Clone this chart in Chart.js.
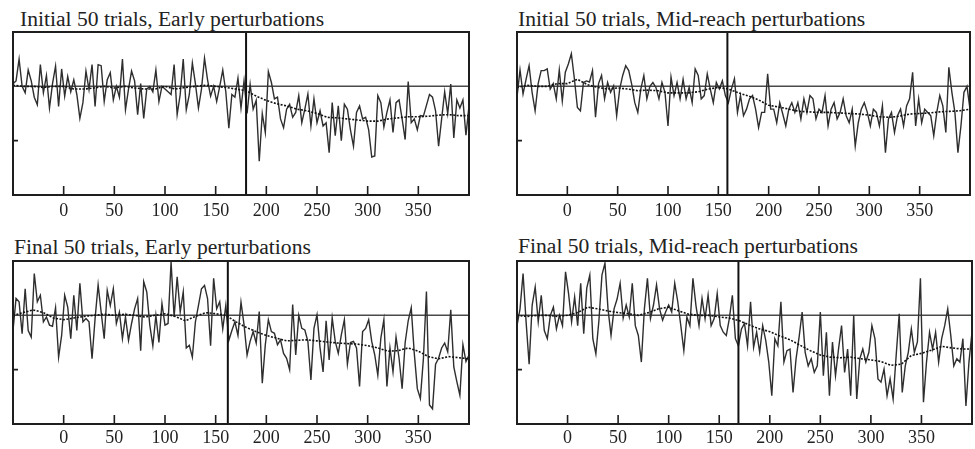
<!DOCTYPE html>
<html>
<head>
<meta charset="utf-8">
<script src="https://cdn.jsdelivr.net/npm/chart.js@4.4.1/dist/chart.umd.min.js"></script>
<style>
  body { margin: 0; background: #fff; width: 975px; height: 449px; overflow: hidden; position: relative; }
  canvas { position: absolute; }
  .ttl { position: absolute; font-family: "Liberation Serif", "Times New Roman", serif; font-size: 21.6px;
         line-height: 1; color: #222; white-space: nowrap; }
</style>
</head>
<body>
<div class="ttl" id="t0"></div>
<div class="ttl" id="t1"></div>
<div class="ttl" id="t2"></div>
<div class="ttl" id="t3"></div>
<canvas id="c0"></canvas>
<canvas id="c1"></canvas>
<canvas id="c2"></canvas>
<canvas id="c3"></canvas>
<script>
// time axis: single-trial traces sampled every 3 ms, mean traces every 10 ms, both from -50
const T0 = -50;
const RAW_STEP = 3;
const MEAN_STEP = 10;
const xTicks = [0, 50, 100, 150, 200, 250, 300, 350];
const yTicks = [-1];

const titles = [
  'Initial 50 trials, Early perturbations',
  'Initial 50 trials, Mid-reach perturbations',
  'Final 50 trials, Early perturbations',
  'Final 50 trials, Mid-reach perturbations'
];

// perturbation onset (vertical line) for each panel
const onsets = [180, 159, 162, 169];

// Initial 50 trials, early perturbations
const initEarlyRaw = [
  0.05, 0.1, 0.5, 0.0, -0.12, 0.3, 0.1, -0.2, -0.34, 0.4,
  -0.12, 0.2, -0.4, 0.05, 0.37, -0.37, 0.32, -0.18, 0.18, -0.1,
  0.12, -0.15, -0.59, -0.3, 0.28, -0.06, 0.4, -0.37, 0.4, 0.38,
  -0.28, 0.12, 0.25, -0.25, 0.0, -0.2, 0.5, -0.43, -0.05, 0.28,
  0.1, -0.52, 0.05, -0.59, -0.05, 0.0, -0.1, 0.3, -0.28, 0.0,
  -0.05, -0.1, -0.15, 0.4, -0.52, -0.15, 0.5, -0.43, -0.15, 0.43,
  0.05, -0.4, -0.05, 0.52, 0.12, -0.18, 0.0, -0.28, 0.0, 0.3,
  -0.1, -0.77, -0.15, -0.2, 0.15, -0.4, 0.1,
  -0.5, 0.04, -0.42, -0.26, -1.38, -0.5, -0.85, 0.27, 0.07, -0.23,
  -0.2, -0.6, -0.76, -0.42, -0.33, -0.57, -0.48, -0.17, -0.67, -0.42,
  -0.14, -0.73, -0.23, -0.67, -0.45, -0.73, -0.67, -1.22, -0.3, -0.91,
  -0.36, -1.0, -0.33, -0.42, -0.8, -1.1, -0.48, -0.36, -0.6, -0.57,
  -0.8, -1.3, -1.28, -0.17, -0.3, -0.75, -0.48, -0.25, -0.85, -0.3,
  -0.25, -0.6, -0.98, 0.09, -0.67, -0.6, -0.8, -0.54, -0.55, -0.35,
  -0.15, -0.2, -0.45, -1.1, -0.6, -0.1, -0.5, 0.04, -0.95, -0.25,
  -0.4, -0.25, -0.9, -0.36
];
const initEarlyMean = [
  0.02, 0.0, 0.0, -0.02, 0.0, 0.0, -0.05, -0.05, -0.03, 0.0,
  -0.03, 0.0, -0.03, -0.05, -0.05, 0.0, -0.05, -0.02, 0.0, 0.02,
  0.0, -0.02, -0.05, -0.08, -0.18, -0.26, -0.32, -0.36, -0.42, -0.45,
  -0.5, -0.57, -0.58, -0.6, -0.62, -0.64, -0.64, -0.6, -0.58, -0.56,
  -0.56, -0.55, -0.53, -0.52, -0.54, -0.54
];

// Initial 50 trials, mid-reach perturbations
const initMidRaw = [
  -0.2, 0.3, -0.14, 0.13, 0.38, -0.11, -0.45, 0.05, 0.29, 0.29,
  0.32, -0.05, 0.05, -0.23, 0.3, -0.27, 0.26, 0.41, 0.6, 0.14,
  -0.39, -0.45, 0.07, 0.1, 0.08, 0.29, -0.57, 0.05, 0.2, -0.23,
  0.07, -0.11, 0.01, -0.54, -0.05, 0.2, 0.38, 0.29, 0.03, -0.3,
  -0.48, -0.05, 0.2, -0.23, 0.0, 0.07, -0.02, -0.23, 0.07, -0.11,
  -0.73, 0.17, -0.17, 0.07, -0.23, 0.13, -0.23, -0.02, -0.3, 0.32,
  0.2, -0.23, -0.17, 0.23, -0.05, -0.3, 0.07, -0.05, 0.1, -0.17,
  -0.3, -0.05, 0.14, -0.48, -0.17, -0.54, -0.42, -0.23, -0.17, -0.42,
  -0.76, -0.48, -0.48, 0.23, -0.42, -0.42, -0.67, -0.3, -0.51, -0.73,
  -0.42, -0.3, -0.48, -0.3, -0.6, -0.23, -0.48, -0.17, -0.23, -0.6,
  -0.42, -0.48, -0.17, -0.73, -0.42, -0.3, -0.6, -0.48, -0.23, -0.54,
  -0.67, -0.42, -1.1, -0.67, -0.42, -0.3, -0.48, -0.73, -0.42, -0.48,
  -0.73, -0.36, -1.22, -0.6, -0.48, -0.85, -0.54, -0.42, -0.73, -0.36,
  -0.23, 0.26, -0.73, -0.23, -0.67, -0.42, -0.48, -0.54, -0.91, -0.48,
  -0.17, -0.36, -0.85, 0.35, -0.11, -0.48, -1.22, -0.73, -0.11, 0.0,
  -0.42
];
const initMidMean = [
  -0.02, 0.02, 0.0, 0.0, 0.05, 0.05, 0.13, 0.03, -0.02, -0.05,
  -0.03, -0.05, -0.08, -0.07, -0.08, -0.12, -0.12, -0.12, -0.1, -0.05,
  -0.02, -0.05, -0.12, -0.18, -0.25, -0.35, -0.38, -0.42, -0.46, -0.47,
  -0.48, -0.48, -0.49, -0.5, -0.51, -0.53, -0.56, -0.57, -0.55, -0.51,
  -0.5, -0.49, -0.47, -0.46, -0.45, -0.42
];

// Final 50 trials, early perturbations
const finalEarlyRaw = [
  -0.28, 0.31, 0.25, -0.34, 0.49, -0.28, -0.4, 0.77, 0.25, 0.37,
  -0.12, -0.03, -0.18, -0.2, 0.14, -0.77, -0.37, 0.37, 0.15, -0.43,
  0.37, -0.28, 0.59, -0.12, -0.06, -0.12, -0.8, -0.06, 0.56, 0.06,
  -0.43, 0.46, 0.18, 0.49, -0.15, 0.06, -0.43, -0.03, -0.46, -0.15,
  0.12, 0.31, -0.65, 0.62, 0.43, -0.18, -0.56, 0.0, -0.5, 0.22,
  -0.18, -0.15, 0.98, -0.03, 0.71, 0.06, 0.43, -0.6, -0.55, -0.77,
  -0.12, 0.18, 0.49, 0.55, 0.31, -0.56, 0.68, 0.12, 0.25, -0.25,
  0.18,
  -0.46, -0.28, -0.12, -0.37, 0.24, -0.17, -0.73, -0.48, -0.3, -0.51,
  0.07, -1.25, -0.54, -0.08, -0.3, -0.33, -0.54, -0.45, -0.7, -0.79,
  -1.0, 0.2, -0.73, 0.0, -0.24, -0.27, -0.48, -1.19, -0.24, 0.01,
  -0.6, -1.04, -0.1, -0.82, -0.05, -0.48, -0.7, -0.36, -0.08, -0.9,
  -0.5, -0.48, -0.6, -1.31, -0.3, -0.24, -0.08, -0.48, -0.73, -1.1,
  -0.42, -0.08, -1.31, -0.6, -1.04, -0.4, -0.79, -1.35, -0.5, -0.1,
  0.14, -0.7, -1.35, -1.53, -0.8, 0.44, -1.65, -1.72, -0.9, -0.79,
  -0.6, -0.51, -0.67, 0.1, -0.95, -1.22, -1.47, -0.54, -0.85, -0.73
];
const finalEarlyMean = [
  0.0, 0.05, 0.1, 0.05, -0.05, -0.08, -0.05, -0.02, 0.0, 0.02,
  0.0, 0.02, 0.0, -0.03, 0.0, 0.03, -0.02, -0.1, -0.02, 0.05,
  0.03, 0.0, -0.12, -0.22, -0.3, -0.37, -0.42, -0.47, -0.46, -0.45,
  -0.47, -0.49, -0.51, -0.52, -0.53, -0.56, -0.6, -0.66, -0.65, -0.6,
  -0.66, -0.76, -0.8, -0.76, -0.78, -0.8
];

// Final 50 trials, mid-reach perturbations
const finalMidRaw = [
  -0.19, 0.12, 0.77, -0.12, -0.9, 0.19, 0.52, -0.12, 0.37, -0.28,
  -0.43, 0.0, 0.15, -0.25, 0.0, -0.19, 0.8, 0.4, -0.12, 0.34,
  -0.19, 0.59, -0.34, 0.5, 0.74, -0.43, -0.71, -0.1, 0.74, 0.96,
  0.12, -0.37, 0.12, 0.3, 0.59, -0.05, 0.19, -0.03, 0.59, -0.19,
  -0.37, -0.86, 0.12, 0.68, -0.06, 0.19, 0.56, 0.12, -0.09, 0.06,
  0.19, 0.06, 0.59, 0.25, -0.19, -0.65, -0.03, -0.19, 0.68, 0.18,
  -0.19, 0.31, -0.06, 0.37, -0.19, -0.06, 0.4, -0.19, -0.31, -0.37,
  -0.06, 0.37, -0.43,
  -0.56, -0.25, -0.15, -0.56, 0.25, -0.59, -0.31, -0.68, -0.19, -0.46,
  -0.86, -1.48, -0.43, -0.56, 0.25, -0.86, -0.65, -0.62, -1.42, -0.8,
  -0.4, 0.06, -0.68, -0.93, -0.8, -1.05, -0.93, 0.06, -1.11, -0.31,
  -1.48, -0.49, -1.11, -0.62, -0.19, -1.05, -0.62, -1.48, 0.0, -1.54,
  -0.8, -0.62, -0.86, -0.68, -0.19, -0.43, -1.17, -1.23, -0.99, -1.48,
  -1.17, -1.54, -0.74, 0.03, -1.42, -0.93, -0.68, -0.25, -0.68, -0.49,
  0.68, -1.6, -0.86, -0.31, -0.62, -0.31, -0.86, -0.43, -0.19, 0.12,
  -0.37, -0.93, -0.8, -0.86, -0.43, -1.67, -0.86, -0.31
];
const finalMidMean = [
  0.0, -0.02, 0.0, 0.0, -0.02, 0.0, 0.05, 0.15, 0.12, 0.08,
  0.05, 0.03, 0.0, 0.05, 0.12, 0.15, 0.08, 0.02, 0.0, 0.0,
  -0.03, -0.05, -0.1, -0.18, -0.25, -0.3, -0.38, -0.45, -0.55, -0.65,
  -0.73, -0.77, -0.78, -0.77, -0.8, -0.82, -0.85, -0.92, -0.9, -0.74,
  -0.7, -0.64, -0.57, -0.6, -0.62, -0.62
];

const rawSeries = [initEarlyRaw, initMidRaw, finalEarlyRaw, finalMidRaw];
const meanSeries = [initEarlyMean, initMidMean, finalEarlyMean, finalMidMean];

// panel placement: canvas box and plot box in page pixels
const panels = [
  { cx: 0,   cy: 0,   cw: 480, ch: 225, L: 13,  T: 32,  R: 469, B: 195, tx: 20,  ty: 9,   pad: 5 },
  { cx: 495, cy: 0,   cw: 480, ch: 225, L: 517, T: 32,  R: 973, B: 195, tx: 518, ty: 9,   pad: 5 },
  { cx: 0,   cy: 236, cw: 480, ch: 213, L: 13,  T: 261, R: 469, B: 424, tx: 14,  ty: 237, pad: 3 },
  { cx: 495, cy: 236, cw: 480, ch: 213, L: 517, T: 261, R: 973, B: 424, tx: 518, ty: 236, pad: 3 }
];

const serif = '"Liberation Serif", "Times New Roman", serif';

const frame = {
  id: 'frame',
  afterDatasetsDraw(chart) {
    const ctx = chart.ctx;
    const a = chart.chartArea;
    const x = chart.scales.x, y = chart.scales.y;
    ctx.save();
    ctx.strokeStyle = '#1e1e1e';
    ctx.lineWidth = 2;
    ctx.strokeRect(a.left, a.top, a.right - a.left, a.bottom - a.top);
    ctx.lineWidth = 1.6;
    ctx.beginPath();
    xTicks.forEach(function (t) {
      const px = x.getPixelForValue(t);
      ctx.moveTo(px, a.bottom);
      ctx.lineTo(px, a.bottom - 9);
    });
    yTicks.forEach(function (t) {
      const py = y.getPixelForValue(t);
      ctx.moveTo(a.left, py);
      ctx.lineTo(a.left + 5, py);
    });
    ctx.stroke();
    ctx.restore();
  }
};

function toPoints(values, step) {
  return values.map(function (v, i) { return { x: T0 + i * step, y: v }; });
}

panels.forEach(function (p, k) {
  const t = document.getElementById('t' + k);
  t.textContent = titles[k];
  t.style.left = p.tx + 'px';
  t.style.top = p.ty + 'px';

  const cv = document.getElementById('c' + k);
  cv.width = p.cw; cv.height = p.ch;
  cv.style.left = p.cx + 'px'; cv.style.top = p.cy + 'px';
  const axisH = p.cy + p.ch - p.B;

  new Chart(cv.getContext('2d'), {
    type: 'line',
    data: {
      datasets: [
        { data: [{ x: onsets[k], y: -2 }, { x: onsets[k], y: 1 }],
          borderColor: '#111', borderWidth: 2 },
        { data: toPoints(meanSeries[k], MEAN_STEP),
          borderColor: '#111', borderWidth: 1.6, borderDash: [2, 1.5] },
        { data: toPoints(rawSeries[k], RAW_STEP),
          borderColor: '#2e2e2e', borderWidth: 1.4 },
        { data: [{ x: -50, y: 0 }, { x: 400, y: 0 }],
          borderColor: '#4a4a4a', borderWidth: 1.5 }
      ]
    },
    options: {
      responsive: false,
      animation: false,
      events: [],
      elements: { point: { radius: 0 }, line: { tension: 0 } },
      layout: { padding: { left: p.L - p.cx, top: p.T - p.cy, right: p.cx + p.cw - p.R, bottom: 0 } },
      plugins: { legend: { display: false }, tooltip: { enabled: false }, title: { display: false } },
      scales: {
        x: {
          type: 'linear', min: -50, max: 400,
          grid: { display: false, drawTicks: false },
          border: { display: false },
          ticks: {
            stepSize: 50, autoSkip: false, maxRotation: 0, padding: p.pad,
            color: '#222', font: { family: serif, size: 18 },
            callback: function (v) { return (v < 0 || v > 350) ? '' : v; }
          },
          afterFit: function (s) { s.height = axisH; }
        },
        y: { min: -2, max: 1, display: false }
      }
    },
    plugins: [frame]
  });
});
</script>
</body>
</html>
